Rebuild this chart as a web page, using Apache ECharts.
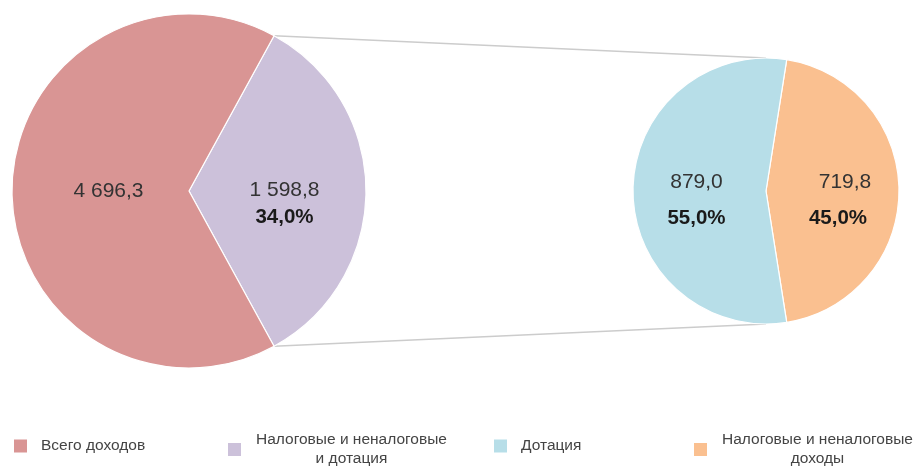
<!DOCTYPE html>
<html>
<head>
<meta charset="utf-8">
<script src="https://cdn.jsdelivr.net/npm/echarts@6/dist/echarts.min.js"></script>
<style>
html,body{margin:0;padding:0;background:#fff;}
#chart{width:915px;height:467px;}
</style>
</head>
<body>
<div id="chart"></div>
<script>
// ---- data ----
const leftCategories = ['Всего доходов', 'Налоговые и неналоговые и дотация'];
const totalIncome = 4696.3;          // всего доходов
const taxAndGrant = 1598.8;          // налоговые и неналоговые и дотация
const rightCategories = ['Дотация', 'Налоговые и неналоговые доходы'];
const rightValues = [879.0, 719.8];
const legendLabels = {
  'Всего доходов': ['Всего доходов'],
  'Налоговые и неналоговые и дотация': ['Налоговые и неналоговые', 'и дотация'],
  'Дотация': ['Дотация'],
  'Налоговые и неналоговые доходы': ['Налоговые и неналоговые', 'доходы']
};
const colors = {
  'Всего доходов': '#D99594',
  'Налоговые и неналоговые и дотация': '#CCC1DA',
  'Дотация': '#B7DEE8',
  'Налоговые и неналоговые доходы': '#FAC090'
};

// ---- helpers ----
function fmt(v) {
  const p = v.toFixed(1).split('.');
  return p[0].replace(/\B(?=(\d{3})+(?!\d))/g, ' ') + ',' + p[1];
}
function pct(v, sum) {
  return (v / sum * 100).toFixed(1).replace('.', ',') + '%';
}

// ---- layout ----
const L = { cx: 189, cy: 191, r: 177 };
const R = { cx: 766, cy: 191, r: 133 };
const FONT = 'Liberation Sans, Arial, sans-serif';

const leftShare = taxAndGrant / totalIncome;
const rightSum = rightValues[0] + rightValues[1];
const orangeShare = rightValues[1] / rightSum;

const labelRich = {
  v: { fontFamily: FONT, fontSize: 21, color: '#333333', fontWeight: 'normal' },
  p: { fontFamily: FONT, fontSize: 20.5, color: '#1a1a1a', fontWeight: 'bold' }
};

const leftData = [
  {
    name: leftCategories[1], value: taxAndGrant,
    itemStyle: { color: colors[leftCategories[1]] },
    label: {
      formatter: '{v|' + fmt(taxAndGrant) + '}\n{p|' + pct(taxAndGrant, totalIncome) + '}',
      offset: [4, 13],
      rich: { v: Object.assign({}, labelRich.v, { lineHeight: 27 }), p: Object.assign({}, labelRich.p, { lineHeight: 27 }) }
    }
  },
  {
    name: leftCategories[0], value: totalIncome - taxAndGrant,
    itemStyle: { color: colors[leftCategories[0]] },
    label: {
      formatter: '{v|' + fmt(totalIncome) + '}',
      offset: [11, 0],
      rich: { v: Object.assign({}, labelRich.v, { lineHeight: 27 }) }
    }
  }
];

const rightData = [
  {
    name: rightCategories[1], value: rightValues[1],
    itemStyle: { color: colors[rightCategories[1]] },
    label: {
      formatter: '{v|' + fmt(rightValues[1]) + '}\n{p|' + pct(rightValues[1], rightSum) + '}',
      offset: [6, 9],
      rich: {
        v: Object.assign({}, labelRich.v, { lineHeight: 36, padding: [0, 0, 0, 7] }),
        p: Object.assign({}, labelRich.p, { lineHeight: 36, padding: [0, 7, 0, 0] })
      }
    }
  },
  {
    name: rightCategories[0], value: rightValues[0],
    itemStyle: { color: colors[rightCategories[0]] },
    label: {
      formatter: '{v|' + fmt(rightValues[0]) + '}\n{p|' + pct(rightValues[0], rightSum) + '}',
      offset: [0, 9],
      rich: { v: Object.assign({}, labelRich.v, { lineHeight: 36 }), p: Object.assign({}, labelRich.p, { lineHeight: 36 }) }
    }
  }
];

// connector lines from the split edges of the left pie to top/bottom of the right pie
const a = leftShare * Math.PI; // half-angle of the exploded slice (radians)
const upper = [L.cx + L.r * Math.cos(a), L.cy - L.r * Math.sin(a)];
const lower = [L.cx + L.r * Math.cos(a), L.cy + L.r * Math.sin(a)];
const lineStyle = { stroke: '#cccccc', lineWidth: 1.5 };

// legends
const legendPos = [
  { name: 'Всего доходов', left: 12 },
  { name: 'Налоговые и неналоговые и дотация', left: 226 },
  { name: 'Дотация', left: 492 },
  { name: 'Налоговые и неналоговые доходы', left: 692 }
];
const legends = legendPos.map(function (lp) {
  const lines = legendLabels[lp.name];
  const multi = lines.length > 1;
  return {
    data: [lp.name],
    left: lp.left,
    top: multi ? 432 : 437.5,
    padding: 0,
    icon: 'rect',
    itemWidth: 15,
    itemHeight: 15,
    selectedMode: false,
    formatter: function () {
      return lines.map(function (t) { return '{' + (multi ? 'm' : 's') + '|' + t + '}'; }).join('\n');
    },
    textStyle: {
      rich: {
        s: { fontFamily: FONT, fontSize: 15.5, color: '#444444', lineHeight: 18, padding: [0, 0, 0, 8] },
        m: { fontFamily: FONT, fontSize: 15.5, color: '#444444', lineHeight: 19, width: 199, align: 'center', padding: [0, 0, 0, 5] }
      }
    }
  };
});

const chart = echarts.init(document.getElementById('chart'), null, { renderer: 'canvas' });
chart.setOption({
  animation: false,
  backgroundColor: '#ffffff',
  legend: legends,
  graphic: [
    { type: 'line', z: 1, shape: { x1: upper[0], y1: upper[1], x2: R.cx, y2: R.cy - R.r }, style: lineStyle, silent: true },
    { type: 'line', z: 1, shape: { x1: lower[0], y1: lower[1], x2: R.cx, y2: R.cy + R.r }, style: lineStyle, silent: true }
  ],
  series: [
    {
      type: 'pie',
      center: [L.cx, L.cy],
      radius: L.r,
      startAngle: leftShare * 180,
      clockwise: true,
      silent: true,
      avoidLabelOverlap: false,
      itemStyle: { borderColor: '#ffffff', borderWidth: 1.2 },
      label: { show: true, position: 'inside' },
      labelLine: { show: false },
      emphasis: { disabled: true },
      data: leftData
    },
    {
      type: 'pie',
      center: [R.cx, R.cy],
      radius: R.r,
      startAngle: orangeShare * 180,
      clockwise: true,
      silent: true,
      avoidLabelOverlap: false,
      itemStyle: { borderColor: '#ffffff', borderWidth: 1.2 },
      label: { show: true, position: 'inside' },
      labelLine: { show: false },
      emphasis: { disabled: true },
      data: rightData
    }
  ]
});
</script>
</body>
</html>
